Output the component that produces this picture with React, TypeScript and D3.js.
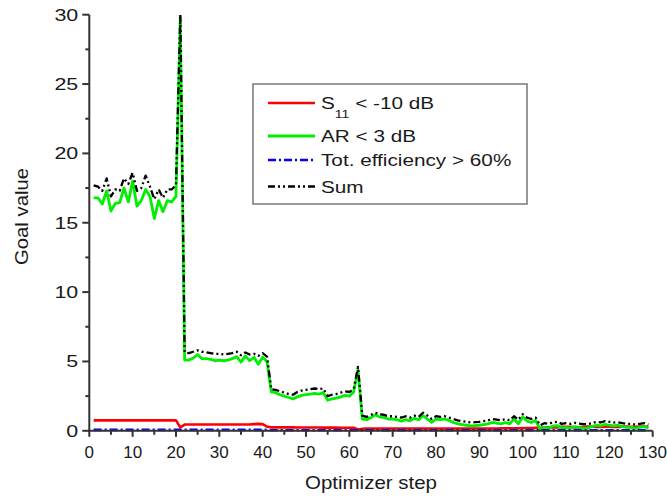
import React from "react";
import * as d3 from "d3";

const steps: number[] = d3.range(1, 130);

const arValues: number[] = [
  16.8, 16.8, 16.35, 17.3, 15.85, 16.4, 16.45, 17.5, 16.5, 18.0,
  16.2, 16.6, 17.4, 16.9, 15.3, 16.6, 15.8, 16.6, 16.5, 16.9,
  29.8, 5.1, 5.1, 5.25, 5.5, 5.2, 5.2, 5.15, 5.05, 5.1,
  5.05, 5.1, 5.2, 5.35, 4.95, 5.4, 5.05, 5.3, 4.8, 5.3,
  5.0, 2.8, 2.75, 2.6, 2.5, 2.4, 2.3, 2.45, 2.55, 2.6,
  2.65, 2.7, 2.65, 2.75, 2.2, 2.3, 2.35, 2.45, 2.55, 2.5,
  2.8, 4.4, 0.85, 0.8, 0.95, 1.15, 1.0, 0.95, 0.85, 0.85,
  0.8, 0.7, 0.8, 0.72, 0.9, 0.8, 1.1, 0.85, 0.6, 0.85,
  0.8, 0.85, 0.75, 0.6, 0.5, 0.45, 0.4, 0.35, 0.38, 0.4,
  0.45, 0.5, 0.6, 0.55, 0.5, 0.6, 0.5, 0.85, 0.5, 1.0,
  0.7, 0.6, 0.75, 0.1, 0.25, 0.2, 0.35, 0.38, 0.2, 0.25,
  0.2, 0.3, 0.25, 0.2, 0.2, 0.3, 0.4, 0.35, 0.47, 0.4,
  0.35, 0.4, 0.3, 0.25, 0.25, 0.2, 0.25, 0.3, 0.2,
];

const sumValues: number[] = [
  17.7, 17.6, 17.3, 18.2, 16.9, 17.4, 17.3, 18.2, 17.8, 18.6,
  17.3, 17.5, 18.4, 17.6, 16.7, 17.4, 16.8, 17.4, 17.4, 17.7,
  30.0, 5.65, 5.6, 5.7, 5.8, 5.7, 5.65, 5.6, 5.55, 5.55,
  5.5, 5.55, 5.6, 5.7, 5.45, 5.65, 5.5, 5.55, 5.4, 5.6,
  5.35, 3.0, 2.95, 2.85, 2.75, 2.65, 2.6, 2.8, 2.9, 2.95,
  3.0, 3.05, 3.0, 3.05, 2.5, 2.6, 2.65, 2.75, 2.85, 2.8,
  3.0, 4.6, 1.1, 1.0, 1.15, 1.3, 1.2, 1.15, 1.05, 1.05,
  1.0, 0.95, 1.05, 0.95, 1.1, 1.0, 1.3, 1.1, 0.85, 1.05,
  1.0, 1.05, 0.95, 0.85, 0.75, 0.7, 0.65, 0.6, 0.62, 0.65,
  0.7, 0.75, 0.85, 0.8, 0.75, 0.85, 0.75, 1.05, 0.8, 1.2,
  0.95, 0.85, 0.95, 0.4, 0.55, 0.5, 0.62, 0.65, 0.5, 0.55,
  0.5, 0.58, 0.52, 0.48, 0.48, 0.55, 0.65, 0.6, 0.7, 0.65,
  0.6, 0.62, 0.55, 0.5, 0.5, 0.45, 0.5, 0.55, 0.45,
];

const s11Values: number[] = [
  0.75, 0.75, 0.75, 0.75, 0.75, 0.75, 0.75, 0.75, 0.75, 0.75,
  0.75, 0.75, 0.75, 0.75, 0.75, 0.75, 0.75, 0.75, 0.75, 0.75,
  0.25, 0.45, 0.45, 0.45, 0.45, 0.45, 0.45, 0.45, 0.45, 0.45,
  0.45, 0.45, 0.45, 0.45, 0.45, 0.45, 0.45, 0.48, 0.5, 0.48,
  0.3, 0.25, 0.25, 0.25, 0.25, 0.25, 0.25, 0.24, 0.24, 0.24,
  0.24, 0.24, 0.24, 0.23, 0.23, 0.23, 0.23, 0.22, 0.22, 0.22,
  0.22, 0.1, 0.15, 0.17, 0.17, 0.17, 0.17, 0.17, 0.17, 0.17,
  0.17, 0.17, 0.17, 0.17, 0.17, 0.17, 0.17, 0.17, 0.17, 0.17,
  0.17, 0.17, 0.17, 0.17, 0.17, 0.17, 0.17, 0.17, 0.17, 0.17,
  0.17, 0.17, 0.17, 0.17, 0.18, 0.18, 0.18, 0.18, 0.18, 0.2,
  0.2, 0.2, 0.22, 0.22, 0.25, 0.25, 0.25, 0.25, 0.28, 0.28,
  0.28, 0.25, 0.25, 0.28, 0.3, 0.3, 0.28, 0.28, 0.3, 0.3,
  0.28, 0.28, 0.3, 0.3, 0.28, 0.28, 0.3, 0.3, 0.28,
];

const effValues: number[] = steps.map((s) => (s <= 41 ? 0.07 : 0.04));

const xTicks: number[] = d3.range(0, 131, 10);
const xMinorTicks: number[] = d3.range(5, 130, 10);
const yTicks: number[] = [0, 5, 10, 15, 20, 25, 30];
const yMinorTicks: number[] = [2.5, 7.5, 12.5, 17.5, 22.5, 27.5];

const legendLabels: string[] = ["S11 < -10 dB", "AR < 3 dB", "Tot. efficiency > 60%", "Sum"];

const W = 667;
const H = 496;
const FONT = "'Liberation Sans', Arial, sans-serif";
const AXIS = "#333";
const TXT = "#1a1a1a";

export default function App() {
  const x = d3.scaleLinear().domain([0, 130]).range([89.3, 652.7]);
  const y = d3.scaleLinear().domain([0, 30]).range([430.8, 14.7]);

  const mk = (vals: number[]) =>
    d3
      .line<number>()
      .x((_, i) => x(steps[i]))
      .y((d) => y(d))(vals) as string;

  const series = [
    { vals: s11Values, color: "#ff0000", width: 2.6, dash: "" },
    { vals: arValues, color: "#00ee00", width: 2.8, dash: "" },
    { vals: effValues, color: "#0000ff", width: 2.6, dash: "8,3,2,3" },
    { vals: sumValues, color: "#000000", width: 2.3, dash: "7,3,2,3,2,3" },
  ];

  const legendRows = [103, 136, 160, 186.5];

  return (
    <svg
      width={W}
      height={H}
      style={{ position: "absolute", left: 0, top: 0, background: "#fff" }}
      fontFamily={FONT}
    >
      <rect x={0} y={0} width={W} height={H} fill="#fff" />
      <g fill="none" strokeLinejoin="round">
        {series.map((s, i) => (
          <path
            key={i}
            d={mk(s.vals)}
            stroke={s.color}
            strokeWidth={s.width}
            strokeDasharray={s.dash || undefined}
          />
        ))}
      </g>
      <g stroke={AXIS} strokeWidth={2}>
        <line x1={x(0)} x2={x(0)} y1={y(0) + 1} y2={y(30)} />
        <line x1={x(0) - 1} x2={x(130)} y1={y(0)} y2={y(0)} />
        {yTicks.map((t) => (
          <line key={"yt" + t} x1={x(0) - 7} x2={x(0)} y1={y(t)} y2={y(t)} />
        ))}
        {yMinorTicks.map((t) => (
          <line key={"ym" + t} x1={x(0) - 4} x2={x(0)} y1={y(t)} y2={y(t)} />
        ))}
        {xTicks.map((t) => (
          <line key={"xt" + t} x1={x(t)} x2={x(t)} y1={y(0)} y2={y(0) + 6} />
        ))}
        {xMinorTicks.map((t) => (
          <line key={"xm" + t} x1={x(t)} x2={x(t)} y1={y(0)} y2={y(0) + 4} />
        ))}
      </g>
      <g fill={TXT}>
        {yTicks.map((t) => (
          <text
            key={"yl" + t}
            transform={`translate(${x(0) - 11},${y(t) + 6}) scale(1.3,1)`}
            textAnchor="end"
            fontSize={16.5}
          >
            {t}
          </text>
        ))}
        {xTicks.map((t) => (
          <text key={"xl" + t} x={x(t)} y={458} textAnchor="middle" fontSize={17}>
            {t}
          </text>
        ))}
      </g>
      <text
        x={371}
        y={489}
        textAnchor="middle"
        fontSize={18.5}
        fill={TXT}
        textLength={132}
        lengthAdjust="spacingAndGlyphs"
      >
        Optimizer step
      </text>
      <text
        transform="translate(27.5,216.5) rotate(-90)"
        textAnchor="middle"
        fontSize={19}
        fill={TXT}
        textLength={97}
        lengthAdjust="spacingAndGlyphs"
      >
        Goal value
      </text>
      <rect x={253} y={84} width={274} height={120} fill="#fff" stroke="#777" strokeWidth={1.5} />
      {series.map((s, i) => (
        <line
          key={"lg" + i}
          x1={268}
          x2={315}
          y1={legendRows[i]}
          y2={legendRows[i]}
          stroke={s.color}
          strokeWidth={s.width}
          strokeDasharray={s.dash || undefined}
        />
      ))}
      <g fill={TXT} fontSize={17}>
        <text transform={`translate(321,${legendRows[0] + 6}) scale(1.22,1)`}>
          S
          <tspan fontSize={11.5} dy={9}>
            11
          </tspan>
          <tspan dy={-9}> {legendLabels[0].slice(4)}</tspan>
        </text>
        {legendLabels.slice(1).map((l, i) => (
          <text key={"lt" + i} transform={`translate(321,${legendRows[i + 1] + 6}) scale(1.22,1)`}>
            {l}
          </text>
        ))}
      </g>
    </svg>
  );
}
